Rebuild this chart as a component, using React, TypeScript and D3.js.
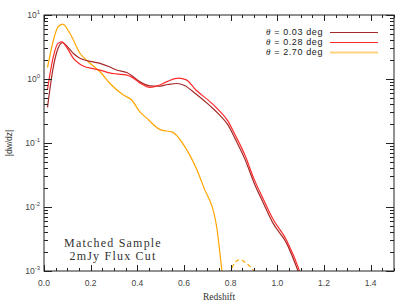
import { useEffect, useRef } from "react";
import * as d3 from "d3";

// redshift samples and |dw/dz| values
const zDark = [0.015, 0.04, 0.06, 0.08, 0.1, 0.126, 0.15, 0.17, 0.21, 0.24, 0.28, 0.31, 0.355, 0.38, 0.41, 0.455, 0.49, 0.53, 0.57, 0.6, 0.65, 0.712, 0.75, 0.787, 0.82, 0.86, 0.9, 0.94, 0.98, 1.04, 1.09, 1.12];
const wDark = [0.36, 1.55, 3.0, 3.7, 3.2, 2.5, 2.15, 2.0, 1.85, 1.75, 1.55, 1.38, 1.26, 1.1, 0.91, 0.78, 0.77, 0.82, 0.85, 0.8, 0.59, 0.38, 0.28, 0.195, 0.115, 0.057, 0.024, 0.0115, 0.0057, 0.0027, 0.00098, 0.0005];

const zRed = [0.015, 0.04, 0.06, 0.076, 0.1, 0.126, 0.15, 0.17, 0.21, 0.24, 0.28, 0.31, 0.355, 0.38, 0.41, 0.455, 0.49, 0.53, 0.576, 0.61, 0.65, 0.712, 0.75, 0.787, 0.82, 0.86, 0.9, 0.94, 0.98, 1.04, 1.1, 1.12];
const wRed = [0.69, 2.24, 3.6, 3.8, 3.0, 2.1, 1.75, 1.58, 1.45, 1.38, 1.25, 1.2, 1.15, 1.05, 0.87, 0.74, 0.79, 0.92, 1.03, 0.97, 0.68, 0.44, 0.324, 0.224, 0.132, 0.066, 0.0275, 0.0132, 0.0066, 0.003, 0.00088, 0.0005];

const zOrange = [0.015, 0.04, 0.06, 0.08, 0.112, 0.155, 0.19, 0.22, 0.24, 0.283, 0.34, 0.376, 0.41, 0.44, 0.5, 0.55, 0.612, 0.65, 0.683, 0.74, 0.765, 0.78];
const wOrange = [1.5, 4.0, 6.5, 7.2, 5.1, 2.5, 1.86, 1.5, 1.3, 0.85, 0.56, 0.47, 0.31, 0.245, 0.16, 0.148, 0.078, 0.042, 0.021, 0.0049, 0.00087, 0.0004];

// negative part of the wide-angle curve (drawn dashed)
const zOrangeNeg = [0.785, 0.8, 0.82, 0.84, 0.86, 0.88, 0.9, 0.915];
const wOrangeNeg = [0.0007, 0.001, 0.00138, 0.0015, 0.00138, 0.0012, 0.00098, 0.0007];

const xTicks = [0, 0.2, 0.4, 0.6, 0.8, 1.0, 1.2, 1.4];
const yDecades = [-3, -2, -1, 0, 1];

const legendItems = [
  { label: "0.03", color: "#a52a2a", width: 1.2, opacity: 1 },
  { label: "0.28", color: "#ff2a2a", width: 1.2, opacity: 1 },
  { label: "2.70", color: "#ffa500", width: 2, opacity: 0.5 },
];

export default function App() {
  const svgRef = useRef<SVGSVGElement>(null);

  useEffect(() => {
    if (!svgRef.current) return;
    const svg = d3.select(svgRef.current);
    svg.selectAll("*").remove();

    const width = 407;
    const height = 306;
    const margin = { top: 15, right: 13, bottom: 35, left: 44 };
    const x0 = margin.left;
    const x1 = width - margin.right;
    const y0 = height - margin.bottom;
    const y1 = margin.top;

    const x = d3.scaleLinear().domain([0, 1.5]).range([x0, x1]);
    const y = d3.scaleLog().domain([1e-3, 10]).range([y0, y1]);

    svg.append("rect").attr("width", width).attr("height", height).attr("fill", "#fff");

    svg.append("clipPath").attr("id", "plot-clip")
      .append("rect").attr("x", x0).attr("y", y1).attr("width", x1 - x0).attr("height", y0 - y1);

    const line = d3.line<[number, number]>()
      .x(d => x(d[0]))
      .y(d => y(d[1]))
      .curve(d3.curveMonotoneX);

    const plot = svg.append("g").attr("clip-path", "url(#plot-clip)");

    const series = [
      { z: zOrange, w: wOrange, color: "#ffa500", dash: "none" },
      { z: zOrangeNeg, w: wOrangeNeg, color: "#ffa500", dash: "4,3" },
      { z: zDark, w: wDark, color: "#a52a2a", dash: "none" },
      { z: zRed, w: wRed, color: "#ff2a2a", dash: "none" },
    ];
    series.forEach(s => {
      plot.append("path")
        .datum(s.z.map((z, i) => [z, s.w[i]] as [number, number]))
        .attr("fill", "none")
        .attr("stroke", s.color)
        .attr("stroke-width", 1.2)
        .attr("stroke-dasharray", s.dash)
        .attr("d", line);
    });

    // frame
    svg.append("rect")
      .attr("x", x0).attr("y", y1).attr("width", x1 - x0).attr("height", y0 - y1)
      .attr("fill", "none").attr("stroke", "#222").attr("stroke-width", 1);

    const ticks = svg.append("g").attr("stroke", "#222").attr("stroke-width", 1);

    // x ticks, bottom and top
    d3.range(0, 1.5001, 0.05).forEach(v => {
      const major = Math.abs(v / 0.2 - Math.round(v / 0.2)) < 1e-6;
      const len = major ? 6 : 3;
      const px = Math.round(x(v)) + 0.5;
      ticks.append("line").attr("x1", px).attr("x2", px).attr("y1", y0).attr("y2", y0 - len);
      ticks.append("line").attr("x1", px).attr("x2", px).attr("y1", y1).attr("y2", y1 + len);
    });

    // y ticks (log), left and right
    yDecades.forEach(e => {
      for (let m = 1; m <= 9; m++) {
        const v = m * Math.pow(10, e);
        if (v > 10) break;
        const len = m === 1 ? 8 : 4;
        const py = Math.round(y(v)) + 0.5;
        ticks.append("line").attr("x1", x0).attr("x2", x0 + len).attr("y1", py).attr("y2", py);
        ticks.append("line").attr("x1", x1).attr("x2", x1 - len).attr("y1", py).attr("y2", py);
      }
    });

    const fontSans = "Liberation Sans, Arial, sans-serif";
    const fontSerif = "Liberation Serif, serif";

    xTicks.forEach(v => {
      svg.append("text")
        .attr("x", x(v)).attr("y", y0 + 15)
        .attr("text-anchor", "middle")
        .attr("font-family", fontSans).attr("font-size", 8.5).attr("fill", "#444")
        .text(v.toFixed(1));
    });

    yDecades.forEach(e => {
      const t = svg.append("text")
        .attr("x", x0 - 4).attr("y", y(Math.pow(10, e)) + 3)
        .attr("text-anchor", "end")
        .attr("font-family", fontSans).attr("font-size", 8.5).attr("fill", "#444");
      t.append("tspan").text("10");
      t.append("tspan").attr("dy", -4).attr("font-size", 6).text(String(e));
    });

    svg.append("text")
      .attr("x", (x0 + x1) / 2).attr("y", y0 + 29)
      .attr("text-anchor", "middle")
      .attr("font-family", fontSerif).attr("font-size", 9.5).attr("fill", "#333")
      .text("Redshift");

    svg.append("text")
      .attr("transform", `translate(12,${(y0 + y1) / 2}) rotate(-90)`)
      .attr("text-anchor", "middle")
      .attr("font-family", fontSans).attr("font-size", 8.5).attr("fill", "#333")
      .text("|dw/dz|");

    ["Matched Sample", "2mJy Flux Cut"].forEach((s, i) => {
      svg.append("text")
        .attr("x", 113).attr("y", 247 + i * 13)
        .attr("text-anchor", "middle")
        .attr("font-family", fontSerif).attr("font-size", 12)
        .attr("letter-spacing", 1.2).attr("fill", "#333")
        .text(s);
    });

    legendItems.forEach((item, i) => {
      const ly = 35 + i * 10;
      const t = svg.append("text")
        .attr("x", 323).attr("y", ly)
        .attr("text-anchor", "end")
        .attr("font-family", fontSans).attr("font-size", 9)
        .attr("letter-spacing", 0.6).attr("fill", "#222")
        .attr("xml:space", "preserve");
      t.append("tspan").attr("font-style", "italic").attr("font-family", fontSerif).text("θ");
      t.append("tspan").text(` = ${item.label} deg`);
      svg.append("line")
        .attr("x1", 330).attr("x2", 378).attr("y1", ly - 2.5).attr("y2", ly - 2.5)
        .attr("stroke", item.color).attr("stroke-width", item.width).attr("stroke-opacity", item.opacity);
    });
  }, []);

  return (
    <div style={{ position: "fixed", left: 0, top: 0, width: 407, height: 306 }}>
      <svg ref={svgRef} width={407} height={306} style={{ display: "block" }} />
    </div>
  );
}
